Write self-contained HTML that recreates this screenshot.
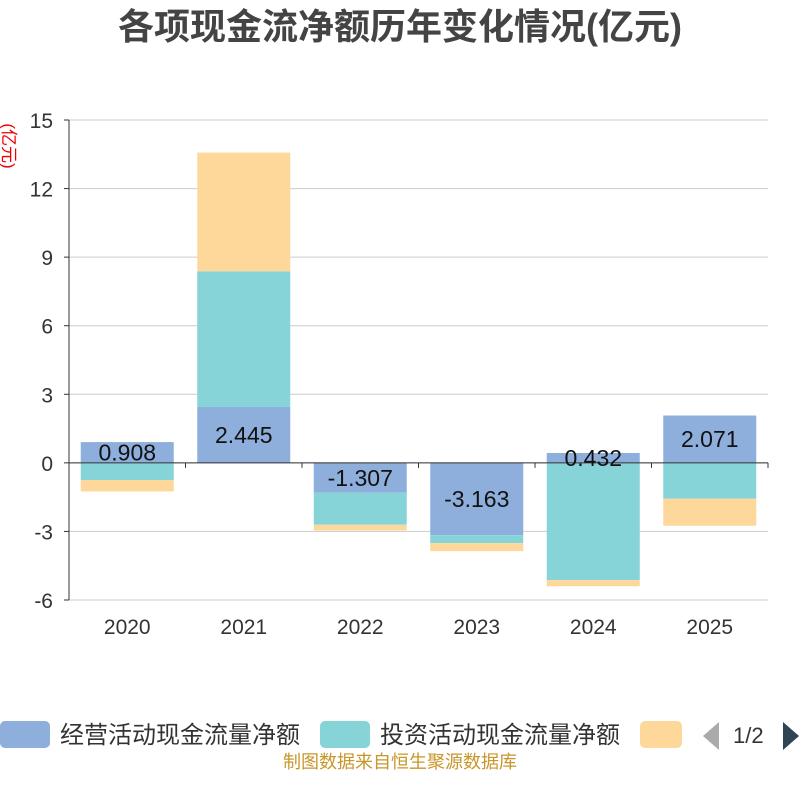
<!DOCTYPE html>
<html><head><meta charset="utf-8">
<style>
body{margin:0;background:#fff;font-family:"Liberation Sans","Noto Sans CJK SC",sans-serif;}
#wrap{position:relative;width:800px;height:800px;overflow:hidden;}
</style></head>
<body>
<div id="wrap">
<svg id="chart" width="800" height="800" xmlns="http://www.w3.org/2000/svg">
<text x="400" y="39" text-anchor="middle" font-size="36" font-weight="bold" fill="#444">各项现金流净额历年变化情况(亿元)</text>
<text transform="translate(3,146) rotate(90)" text-anchor="middle" font-size="17" fill="#e00">(亿元)</text>
<g id="grid"></g>
<g id="bars"></g>
<g id="axes"></g>
<g id="labels"></g>
<g>
<rect x="0" y="721" width="50" height="27" rx="5" fill="#8eaedb"/>
<text x="60" y="743" font-size="24" fill="#333">经营活动现金流量净额</text>
<rect x="320" y="721" width="50" height="27" rx="5" fill="#86d4d8"/>
<text x="380" y="743" font-size="24" fill="#333">投资活动现金流量净额</text>
<rect x="640" y="721" width="42" height="27" rx="5" fill="#fdd89a"/>
<polygon points="719,722 719,750 703,736" fill="#aaa"/>
<text x="733" y="743" font-size="22" fill="#333">1/2</text>
<polygon points="783,722 783,750 799,736" fill="#2f4554"/>
</g>
<text x="400" y="768" text-anchor="middle" font-size="18" fill="#c8962a">制图数据来自恒生聚源数据库</text>
</svg>
</div>
<script>
const categories = ["2020","2021","2022","2023","2024","2025"];
const operating = [0.908, 2.445, -1.307, -3.163, 0.432, 2.071];
const investing = [-0.75, 5.93, -1.4, -0.35, -5.13, -1.57];
const financing = [-0.5, 5.2, -0.25, -0.35, -0.27, -1.18];
const opLabels = ["0.908","2.445","-1.307","-3.163","0.432","2.071"];
const yTicks = [-6,-3,0,3,6,9,12,15];

const NS="http://www.w3.org/2000/svg";
const L=69,R=768,T=120,B=600,yMin=-6,yMax=15;
function y(v){return B-(v-yMin)/(yMax-yMin)*(B-T);}
const band=(R-L)/categories.length;
function xc(i){return L+band*(i+0.5);}
function mk(tag,attrs,parent){const e=document.createElementNS(NS,tag);for(const k in attrs)e.setAttribute(k,attrs[k]);parent.appendChild(e);return e;}
const grid=document.getElementById('grid'),bars=document.getElementById('bars'),axes=document.getElementById('axes'),labels=document.getElementById('labels');

yTicks.forEach(t=>{
  const g=mk('line',{x1:L,x2:R,y1:y(t),y2:y(t),stroke:'#ccc','stroke-width':1},grid);
  
  
  const tk=mk('line',{x1:L-5,x2:L,y1:y(t),y2:y(t),stroke:'#333'},axes);
  
  
  const tx=mk('text',{x:L-16,y:y(t)+8,'text-anchor':'end','font-size':21,fill:'#333'},axes);
  tx.textContent=t;
  
  
});
const ya=mk('line',{x1:L,x2:L,y1:T,y2:B,stroke:'#333'},axes);



const series=[[operating,'#8eaedb','bar-operating'],[investing,'#86d4d8','bar-investing'],[financing,'#fdd89a','bar-financing']];
const bw=93;
categories.forEach((c,i)=>{
  let pos=0,neg=0;
  series.forEach(([arr,col,nm])=>{
    const v=arr[i];let a,b;
    if(v>=0){a=pos;b=pos+v;pos=b;}else{a=neg;b=neg+v;neg=b;}
    const r=mk('rect',{x:xc(i)-bw/2,y:Math.min(y(a),y(b)),width:bw,height:Math.abs(y(a)-y(b)),fill:col},bars);
    
    
  });
  const v=operating[i];
  const ly=y(v/2)+8;
  const lt=mk('text',{x:xc(i),y:ly,'text-anchor':'middle','font-size':23,fill:'#111'},labels);
  lt.textContent=opLabels[i];
  
  
  const xl=mk('text',{x:xc(i),y:634,'text-anchor':'middle','font-size':21,fill:'#333'},axes);
  xl.textContent=c;
  
  
});
const xa=mk('line',{x1:L,x2:R,y1:y(0),y2:y(0),stroke:'#333'},axes);


for(let i=0;i<=categories.length;i++){
  const t=mk('line',{x1:L+band*i,x2:L+band*i,y1:y(0),y2:y(0)+5,stroke:'#333'},axes);
  
  
}
</script>
</body></html>
